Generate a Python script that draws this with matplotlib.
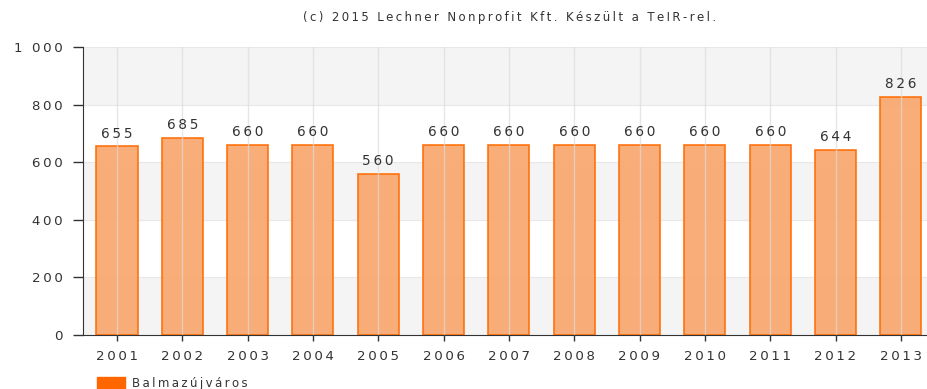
import matplotlib
matplotlib.use('Agg')
import matplotlib.pyplot as plt
from matplotlib.patches import Patch

years = ['2001', '2002', '2003', '2004', '2005', '2006', '2007',
         '2008', '2009', '2010', '2011', '2012', '2013']
values = [655, 685, 660, 660, 560, 660, 660, 660, 660, 660, 660, 644, 826]
yticks = [0, 200, 400, 600, 800, 1000]
ytick_labels = ['0', '200', '400', '600', '800', '1 000']


def spaced(s):
    # wide letter spacing with thin spaces
    return '\u2009'.join(s)


fig = plt.figure(figsize=(9.27, 3.89), dpi=100)
ax = fig.add_axes([0.0895, 0.139, 0.9105, 0.740])

# alternating horizontal bands
for i in range(len(yticks) - 1):
    if i % 2 == 0:
        ax.axhspan(yticks[i], yticks[i + 1], color='#f4f4f4', zorder=0, lw=0)

x = range(len(years))
ax.bar(x, values, width=0.63, color='#f9a66c', alpha=0.92,
       edgecolor='#ff6a00', linewidth=1.2, zorder=2)

# vertical grid lines through the category centres
for xi in x:
    ax.axvline(xi, color='#dcdcdc', lw=1, alpha=0.7, zorder=3)
for yt in yticks[1:]:
    ax.axhline(yt, color='#e8e8e8', lw=0.8, zorder=1)

for xi, v in zip(x, values):
    ax.text(xi, v + 20, spaced(str(v)), ha='center', va='bottom',
            fontsize=9.8, color='#333333')

ax.set_xlim(-0.52, 12.4)
ax.set_ylim(0, 1000)
ax.set_yticks(yticks)
ax.set_yticklabels([spaced(t) for t in ytick_labels])
ax.set_xticks(list(x))
ax.set_xticklabels([spaced(y) for y in years])
ax.tick_params(axis='y', length=7.2, width=1, color='#333333', labelsize=9.6,
               labelcolor='#333333', pad=7.5)
ax.tick_params(axis='x', length=4, width=1, color='#333333', labelsize=9.6,
               labelcolor='#333333', pad=6.5)

for s in ['top', 'right']:
    ax.spines[s].set_visible(False)
ax.spines['left'].set_color('#333333')
ax.spines['bottom'].set_color('#333333')
ax.spines['left'].set_zorder(4)
ax.spines['bottom'].set_zorder(4)

fig.text(0.55, 0.955,
         spaced('(c) 2015 Lechner Nonprofit Kft. Készült a TeIR-rel.'),
         ha='center', va='center', fontsize=8.5, color='#333333')

fig.legend(handles=[Patch(facecolor='#ff6600', edgecolor='#ff6600')],
           labels=[spaced('Balmazújváros')], loc='lower left',
           bbox_to_anchor=(0.093, -0.03), frameon=False, fontsize=8.5,
           handlelength=2.4, handleheight=1.1, handletextpad=0.6,
           labelcolor='#333333')

fig.savefig('out.png', dpi=100)
